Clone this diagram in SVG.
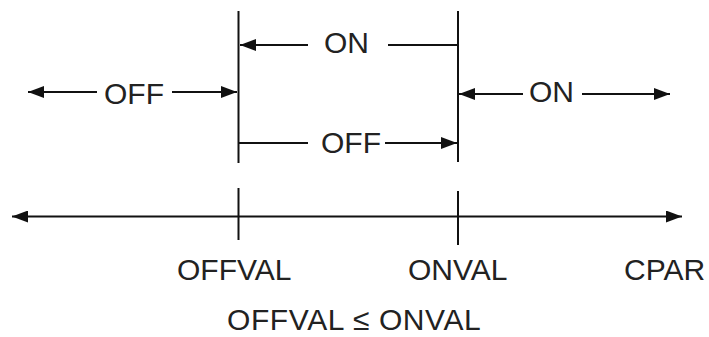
<svg xmlns="http://www.w3.org/2000/svg" width="709" height="337" viewBox="0 0 709 337">
<defs>
<marker id="ah" viewBox="0 0 16 12" refX="16" refY="6" markerWidth="16" markerHeight="12" markerUnits="userSpaceOnUse" orient="auto-start-reverse">
<path d="M0,0 L16,6 L0,12 Z" fill="#111"/>
</marker>
<style>
.ln{stroke:#111;stroke-width:2;fill:none}
.t{font-family:"Liberation Sans",Arial,sans-serif;font-size:30px;fill:#222}
</style>
</defs>
<rect width="709" height="337" fill="#fff"/>
<g id="markers-vertical">
<line class="ln" x1="238.5" y1="11" x2="238.5" y2="163"/>
<line class="ln" x1="458" y1="11" x2="458" y2="162"/>
</g>
<g id="connectors">
<line class="ln" x1="308" y1="45" x2="240" y2="45" marker-end="url(#ah)"/>
<line class="ln" x1="388" y1="45" x2="457" y2="45"/>
<line class="ln" x1="97" y1="92" x2="28" y2="92" marker-end="url(#ah)"/>
<line class="ln" x1="172" y1="92" x2="237" y2="92" marker-end="url(#ah)"/>
<line class="ln" x1="523" y1="94" x2="459" y2="94" marker-end="url(#ah)"/>
<line class="ln" x1="582" y1="94" x2="670" y2="94" marker-end="url(#ah)"/>
<line class="ln" x1="239" y1="143" x2="308" y2="143"/>
<line class="ln" x1="385" y1="143" x2="457" y2="143" marker-end="url(#ah)"/>
<line class="ln" x1="12" y1="216.5" x2="682" y2="216.5" marker-start="url(#ah)" marker-end="url(#ah)"/>
<line class="ln" x1="238.5" y1="188" x2="238.5" y2="240"/>
<line class="ln" x1="458" y1="191" x2="458" y2="245"/>
</g>
<g id="labels">
<text class="t" x="324" y="53">ON</text>
<text class="t" x="104" y="104">OFF</text>
<text class="t" x="529" y="102">ON</text>
<text class="t" x="321" y="153">OFF</text>
<text class="t" x="177" y="280">OFFVAL</text>
<text class="t" x="408" y="280">ONVAL</text>
<text class="t" x="624" y="280">CPAR</text>
<text class="t" x="227" y="330" letter-spacing="0.6">OFFVAL ≤ ONVAL</text>
</g>
</svg>
